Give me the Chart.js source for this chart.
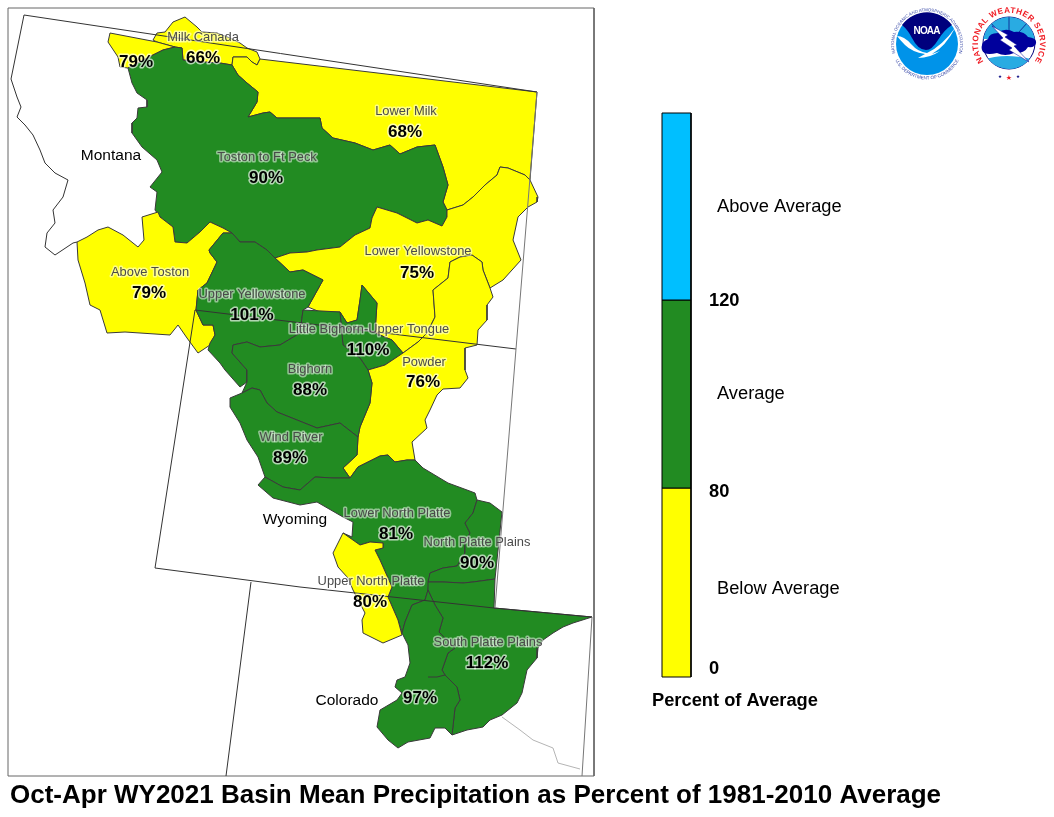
<!DOCTYPE html>
<html>
<head>
<meta charset="utf-8">
<title>Basin Mean Precipitation</title>
<script src="https://cdn.jsdelivr.net/npm/chart.js@4"></script>
<style>
  html, body { margin: 0; padding: 0; background: #fff; }
  #wrap { position: relative; width: 1054px; height: 817px; overflow: hidden; }
  #map { position: absolute; left: 0; top: 0; }
  #logos { position: absolute; left: 0; top: 0; }
</style>
</head>
<body>
<div id="wrap">
<canvas id="map" width="1054" height="817"></canvas>
<svg id="logos" width="1054" height="817" viewBox="0 0 1054 817">
  <defs>
    <path id="noaaTop" d="M 897,58 A 33,33 0 1 1 957,58"/>
    <path id="noaaBottom" d="M 895,60 A 36,36 0 0 0 959,60"/>
    <path id="nwsRing" d="M 991,69 A 31,31 0 1 1 1027,69"/>
    <clipPath id="nwsClip"><circle cx="1009" cy="43" r="26"/></clipPath>
  </defs>
  <!-- NOAA -->
  <circle cx="927" cy="44" r="31" fill="#0093e9"/>
  <path d="M 902,25 A 31,31 0 0 1 952,25 Q 944,30 938,40 Q 932,50 926,50 Q 918,50 912,38 Q 908,30 902,25 Z" fill="#00007d"/>
  <path d="M 897,36 Q 904,36 911,44 Q 918,52 927,53 Q 942,46 955,28 Q 946,46 932,54 L 940,51 Q 930,58 918,58 L 925,54 Q 912,52 905,45 Q 900,40 897,36 Z" fill="#fff"/>
  <text x="927" y="34" font-family="Liberation Sans" font-weight="bold" font-size="10" fill="#fff" text-anchor="middle" textLength="27" lengthAdjust="spacing">NOAA</text>
  <text font-family="Liberation Sans" font-size="4.3" fill="#3b4ba8"><textPath href="#noaaTop" startOffset="50%" text-anchor="middle">NATIONAL OCEANIC AND ATMOSPHERIC ADMINISTRATION</textPath></text>
  <text font-family="Liberation Sans" font-size="4.6" fill="#3b4ba8"><textPath href="#noaaBottom" startOffset="50%" text-anchor="middle">U.S. DEPARTMENT OF COMMERCE</textPath></text>
  <!-- NWS -->
  <circle cx="1009" cy="43" r="26" fill="#fff" stroke="#00007d" stroke-width="1"/>
  <g clip-path="url(#nwsClip)">
    <rect x="983" y="17" width="52" height="22" fill="#29abe2"/>
    <path d="M 983,60 Q 1005,52 1035,60 L 1035,70 L 983,70 Z" fill="#29abe2"/>
    <path d="M 990,22 L 1009,43 M 1009,17 L 1009,43 M 1028,22 L 1009,43" stroke="#00007d" stroke-width="0.7" fill="none"/>
  </g>
  <path d="M 982,50 Q 980,42 988,39 Q 989,33 998,33 Q 1005,27 1014,32 Q 1024,31 1028,37 Q 1037,38 1036,43 Q 1035,48 1028,47 Q 1024,54 1014,53 Q 1005,57 997,53 Q 984,56 982,50 Z" fill="#00009c"/>
  <path d="M 992,26 L 1008,35 L 1005,37 L 1017,45 L 1014,46 L 1029,62 L 1009,50 L 1012,48 L 1000,40 L 1003,38 Z" fill="#fff" stroke="#00009c" stroke-width="0.5"/>
  <text font-family="Liberation Sans" font-weight="bold" font-size="8.2" fill="#f01c24" letter-spacing="0.5"><textPath href="#nwsRing" startOffset="50%" text-anchor="middle">NATIONAL WEATHER SERVICE</textPath></text>
  <text x="1009" y="80" font-family="DejaVu Sans" font-size="7" fill="#f01c24" text-anchor="middle">★</text>
  <text x="1000" y="78" font-family="DejaVu Sans" font-size="4.5" fill="#00007d" text-anchor="middle">★</text>
  <text x="1018" y="78" font-family="DejaVu Sans" font-size="4.5" fill="#00007d" text-anchor="middle">★</text>
</svg>
</div>
<script>
// Basin names and percent of average
const basinNames = ['Milk Canada', '', 'Lower Milk', 'Toston to Ft Peck', 'Lower Yellowstone', 'Above Toston',
    'Upper Yellowstone', 'Little Bighorn-Upper Tongue', 'Powder', 'Bighorn', 'Wind River',
    'Lower North Platte', 'North Platte Plains', 'Upper North Platte', 'South Platte Plains', ''];
const basinPercents = [66, 79, 68, 90, 75, 79, 101, 110, 76, 88, 89, 81, 90, 80, 112, 97];

// Basin outlines
const milkCanada = [[153,40],[157,33],[165,32],[173,22],[185,17],[197,27],[202,32],[217,33],[230,38],[240,43],[247,48],[257,52],[260,59],[257,65],[252,62],[247,57],[233,57],[232,65],[220,63],[203,62],[183,60],[182,48],[175,47],[157,42]];
const milkWest = [[110,33],[108,42],[118,57],[120,67],[128,68],[153,55],[163,50],[175,47],[157,42]];
const lowerMilk = [[233,57],[247,57],[252,62],[257,65],[260,59],[537,92],[530,180],[525,175],[508,168],[500,167],[497,175],[485,185],[473,197],[463,205],[447,210],[443,202],[448,185],[443,167],[435,145],[417,147],[400,154],[390,145],[373,150],[355,143],[333,138],[322,128],[320,118],[300,118],[277,118],[270,112],[263,113],[248,117],[257,102],[258,92],[247,83],[238,75],[232,65]];
const tostonFtPeck = [[128,68],[132,83],[137,93],[147,100],[147,107],[138,108],[137,118],[132,123],[132,133],[142,147],[157,160],[162,172],[150,187],[157,192],[155,210],[160,217],[173,227],[175,242],[187,243],[200,232],[210,222],[223,228],[232,233],[240,242],[255,242],[267,250],[275,258],[290,253],[307,252],[317,250],[340,247],[355,235],[370,228],[372,218],[377,207],[397,213],[417,223],[428,220],[442,226],[447,217],[447,210],[443,202],[448,185],[443,167],[435,145],[417,147],[400,154],[390,145],[373,150],[355,143],[333,138],[322,128],[320,118],[300,118],[277,118],[270,112],[263,113],[248,117],[257,102],[258,92],[247,83],[238,75],[232,65],[220,63],[203,62],[183,60],[182,48],[175,47],[163,50],[153,55]];
const lowerYellowstone = [[447,210],[463,205],[473,197],[485,185],[497,175],[500,167],[508,168],[525,175],[530,180],[538,197],[537,202],[528,207],[518,217],[513,240],[521,260],[503,280],[490,288],[483,270],[482,262],[472,255],[460,257],[450,262],[448,278],[433,290],[435,317],[427,333],[418,342],[403,353],[392,340],[375,333],[377,303],[362,285],[360,300],[357,320],[347,323],[340,312],[320,312],[308,307],[323,280],[303,270],[290,272],[275,258],[290,253],[307,252],[317,250],[340,247],[355,235],[370,228],[372,218],[377,207],[397,213],[417,223],[428,220],[442,226],[447,217]];
const aboveToston = [[223,228],[210,222],[200,232],[187,243],[175,242],[173,227],[160,217],[158,212],[142,217],[144,240],[138,247],[123,235],[108,227],[98,230],[87,237],[77,242],[78,260],[85,283],[90,305],[100,310],[107,333],[125,332],[140,333],[170,335],[178,325],[187,338],[198,353],[210,345],[215,335],[213,325],[203,325],[196,310],[198,290],[207,283],[217,262],[210,253],[209,250],[223,233],[232,233]];
const upperYellowstone = [[232,233],[240,242],[255,242],[267,250],[275,258],[290,272],[303,270],[323,280],[308,307],[303,310],[300,333],[280,345],[260,347],[247,342],[233,345],[232,353],[247,370],[247,382],[240,387],[225,370],[220,363],[208,350],[210,343],[215,335],[213,325],[203,325],[196,310],[198,290],[207,283],[217,262],[210,253],[209,250],[223,233]];
const littleBighorn = [[340,312],[347,323],[357,320],[360,300],[362,285],[377,303],[375,333],[392,340],[403,353],[385,365],[368,370],[360,358],[343,345],[342,335]];
const powder = [[403,353],[418,342],[427,333],[435,317],[433,290],[448,278],[450,262],[460,257],[472,255],[482,262],[483,270],[490,288],[493,297],[487,305],[487,320],[478,330],[477,345],[465,348],[465,370],[468,378],[460,388],[443,389],[437,395],[430,410],[425,420],[427,428],[412,442],[415,460],[407,460],[395,462],[388,455],[380,456],[368,462],[358,467],[350,478],[343,468],[357,455],[358,437],[360,427],[370,403],[372,383],[368,370],[385,365]];
const bighorn = [[303,310],[340,312],[342,335],[343,345],[360,358],[368,370],[372,383],[370,403],[360,427],[358,437],[340,423],[317,428],[297,420],[277,412],[267,403],[260,390],[252,388],[242,393],[247,382],[247,370],[232,353],[233,345],[247,342],[260,347],[280,345],[300,333]];
const windRiver = [[242,393],[252,388],[260,390],[267,403],[277,412],[297,420],[317,428],[340,423],[358,437],[357,455],[343,468],[350,478],[333,478],[315,477],[300,490],[283,487],[265,477],[258,457],[247,440],[240,423],[230,407],[230,398]];
const lowerNorthPlatte = [[265,477],[283,487],[300,490],[315,477],[333,478],[350,478],[358,467],[368,462],[380,456],[388,455],[395,462],[407,460],[415,460],[423,468],[448,483],[467,490],[475,493],[477,500],[473,513],[465,523],[470,533],[465,543],[465,553],[457,566],[443,568],[430,573],[428,590],[425,600],[412,605],[405,622],[402,633],[398,620],[388,597],[392,587],[380,560],[375,550],[383,548],[383,543],[370,542],[360,545],[343,533],[352,537],[353,522],[343,517],[317,502],[300,505],[273,498],[258,485]];
const northPlattePlains = [[477,500],[490,503],[502,512],[495,579],[473,582],[463,583],[443,582],[428,582],[430,573],[443,568],[457,566],[465,553],[465,543],[470,533],[465,523],[473,513]];
const upperNorthPlatte = [[343,533],[333,553],[338,567],[348,578],[353,590],[365,613],[362,620],[363,633],[383,643],[402,635],[398,620],[388,597],[392,587],[380,560],[375,550],[383,548],[383,543],[370,542],[360,545]];
const southPlattePlains = [[428,582],[443,582],[463,583],[473,582],[495,579],[494,608],[592,617],[573,623],[563,627],[553,633],[543,640],[538,648],[537,658],[527,670],[522,693],[517,703],[502,715],[490,720],[483,727],[467,730],[452,735],[455,708],[460,700],[457,687],[445,675],[442,670],[448,653],[455,648],[439,632],[443,618],[435,605],[428,590]];
const southPlatteWest = [[452,735],[455,708],[460,700],[457,687],[445,675],[442,670],[448,653],[455,648],[439,632],[443,618],[435,605],[428,590],[425,600],[412,605],[405,622],[402,633],[408,645],[410,663],[405,677],[397,680],[395,687],[402,693],[397,700],[380,710],[377,727],[388,740],[398,748],[408,742],[430,738],[435,728],[445,728]];
const southPlatteStub = [[428,677],[437,677],[445,675]];

// State lines
const montanaTopWest = [[537,92],[24,15],[11,79],[17,97],[21,107],[17,117],[25,125],[33,135],[40,150],[45,163],[55,173],[68,180],[63,197],[53,210],[55,223],[47,233],[45,247],[55,255],[73,243],[77,242]];
const montanaEast = [[537,92],[516,349]];
const wyomingTop = [[195,310],[516,349]];
const wyomingWest = [[195,310],[155,568]];
const wyomingBottom = [[155,568],[300,587],[494,608],[592,617]];
const wyomingEast = [[516,349],[495,608]];
const coloradoWest = [[251,582],[226,776]];
const coloradoEast = [[592,617],[582,776]];
const newMexicoLine = [[502,717],[520,730],[533,740],[553,748],[558,763],[580,769]];
const frameBox = [[8,8],[594,8],[594,776],[8,776]];

// Colour key
const keyBox = { left: 662, right: 691 };
const keyRows = [[488, 677], [300, 488], [113, 300]];
const keyColors = ['#ffff00', '#228b22', '#00bfff'];
const keyTicks = ['0', '80', '120'];
const keyNames = ['Below Average', 'Average', 'Above Average'];

const basinList = [milkCanada, milkWest, lowerMilk, tostonFtPeck, lowerYellowstone, aboveToston, upperYellowstone,
    littleBighorn, powder, bighorn, windRiver, lowerNorthPlatte, northPlattePlains, upperNorthPlatte,
    southPlattePlains, southPlatteWest];
// label anchors: name centre, percent centre
const basinLabelSpots = [[203,37,203,58],[0,0,136,62],[406,111,405,132],[267,157,266,178],[418,251,417,273],[150,272,149,293],
    [252,294,252,315],[369,329,368,350],[424,362,423,382],[310,369,310,390],[291,437,290,458],
    [397,513,396,534],[477,542,477,563],[371,581,370,602],[488,642,487,663],[0,0,420,698]];

function basinColor(pct) {
    if (pct <= 80) return keyColors[0];
    if (pct < 120) return keyColors[1];
    return keyColors[2];
}

function toPoints(list) {
    return list.map(p => ({ x: p[0], y: p[1] }));
}

function shape(list, fillColor, lineColor) {
    return {
        data: toPoints(list.concat([list[0]])),
        showLine: true,
        borderColor: lineColor,
        borderWidth: 1,
        borderJoinStyle: 'round',
        pointRadius: 0,
        polyFill: fillColor,
        clip: false
    };
}

function line(list, lineColor) {
    return {
        data: toPoints(list),
        showLine: true,
        borderColor: lineColor,
        borderWidth: 1,
        pointRadius: 0,
        clip: false
    };
}

const datasets = [];
datasets.push(shape(frameBox, '#ffffff', '#666666'));
basinList.forEach((b, i) => datasets.push(shape(b, basinColor(basinPercents[i]), '#3a3a3a')));
datasets.push(line(southPlatteStub, '#3a3a3a'));
datasets.push(line(newMexicoLine, '#b5b5b5'));
[montanaTopWest, wyomingTop, wyomingWest, wyomingBottom, coloradoWest].forEach(l => datasets.push(line(l, '#333333')));
[montanaEast, wyomingEast, coloradoEast].forEach(l => datasets.push(line(l, '#777777')));
keyRows.forEach((r, i) => {
    datasets.push(shape([[keyBox.left, r[0]], [keyBox.right, r[0]], [keyBox.right, r[1]], [keyBox.left, r[1]]], keyColors[i], '#000000'));
});
// first dataset is painted last by default, so number them bottom-up
datasets.forEach((d, i) => { d.order = datasets.length - i; });

// Fills each closed outline under its own line
const polygonFill = {
    id: 'polygonFill',
    beforeDatasetDraw(chart, args) {
        const ds = chart.data.datasets[args.index];
        if (!ds.polyFill) return;
        const pts = args.meta.data;
        const ctx = chart.ctx;
        ctx.save();
        ctx.beginPath();
        pts.forEach((p, i) => { if (i === 0) ctx.moveTo(p.x, p.y); else ctx.lineTo(p.x, p.y); });
        ctx.closePath();
        ctx.fillStyle = ds.polyFill;
        ctx.fill();
        ctx.restore();
    }
};

function haloText(chart, str, x, y, font, color, halo, haloWidth, align) {
    const ctx = chart.ctx;
    const px = chart.scales.x.getPixelForValue(x);
    const py = chart.scales.y.getPixelForValue(y);
    ctx.font = font;
    ctx.textAlign = align || 'center';
    ctx.textBaseline = 'middle';
    ctx.lineJoin = 'round';
    if (halo) {
        ctx.strokeStyle = halo;
        ctx.lineWidth = haloWidth;
        ctx.strokeText(str, px, py);
    }
    ctx.fillStyle = color;
    ctx.fillText(str, px, py);
}

const mapLabels = {
    id: 'mapLabels',
    afterDatasetsDraw(chart) {
        const ctx = chart.ctx;
        const sans = '"Liberation Sans", Arial, sans-serif';
        ctx.save();
        basinNames.forEach((name, i) => {
            const s = basinLabelSpots[i];
            if (name) haloText(chart, name, s[0], s[1], '12.9px ' + sans, '#4a4a4a', 'rgba(255,255,255,0.5)', 3);
            haloText(chart, basinPercents[i] + '%', s[2], s[3], 'bold 17px ' + sans, '#000000', 'rgba(255,255,255,0.65)', 3);
        });
        haloText(chart, 'Montana', 111, 156, '15.5px ' + sans, '#000000');
        haloText(chart, 'Wyoming', 295, 520, '15.5px ' + sans, '#000000');
        haloText(chart, 'Colorado', 347, 701, '15.5px ' + sans, '#000000');

        haloText(chart, keyNames[2], 717, 207, '18.3px ' + sans, '#000000', null, 0, 'left');
        haloText(chart, keyNames[1], 717, 394, '18.3px ' + sans, '#000000', null, 0, 'left');
        haloText(chart, keyNames[0], 717, 589, '18.3px ' + sans, '#000000', null, 0, 'left');
        haloText(chart, keyTicks[2], 709, 301, 'bold 18.3px ' + sans, '#000000', null, 0, 'left');
        haloText(chart, keyTicks[1], 709, 492, 'bold 18.3px ' + sans, '#000000', null, 0, 'left');
        haloText(chart, keyTicks[0], 709, 669, 'bold 18.3px ' + sans, '#000000', null, 0, 'left');
        haloText(chart, 'Percent of Average', 652, 701, 'bold 18.3px ' + sans, '#000000', null, 0, 'left');
        haloText(chart, 'Oct-Apr WY2021 Basin Mean Precipitation as Percent of 1981-2010 Average', 10, 796, 'bold 26px ' + sans, '#000000', null, 0, 'left');
        ctx.restore();
    }
};

new Chart(document.getElementById('map').getContext('2d'), {
    type: 'scatter',
    data: { datasets: datasets },
    plugins: [polygonFill, mapLabels],
    options: {
        responsive: false,
        animation: false,
        devicePixelRatio: 1,
        layout: { padding: 0 },
        plugins: { legend: { display: false }, tooltip: { enabled: false } },
        scales: {
            x: { type: 'linear', min: 0, max: 1054, display: false },
            y: { type: 'linear', min: 0, max: 817, reverse: true, display: false }
        }
    }
});
</script>
</body>
</html>
